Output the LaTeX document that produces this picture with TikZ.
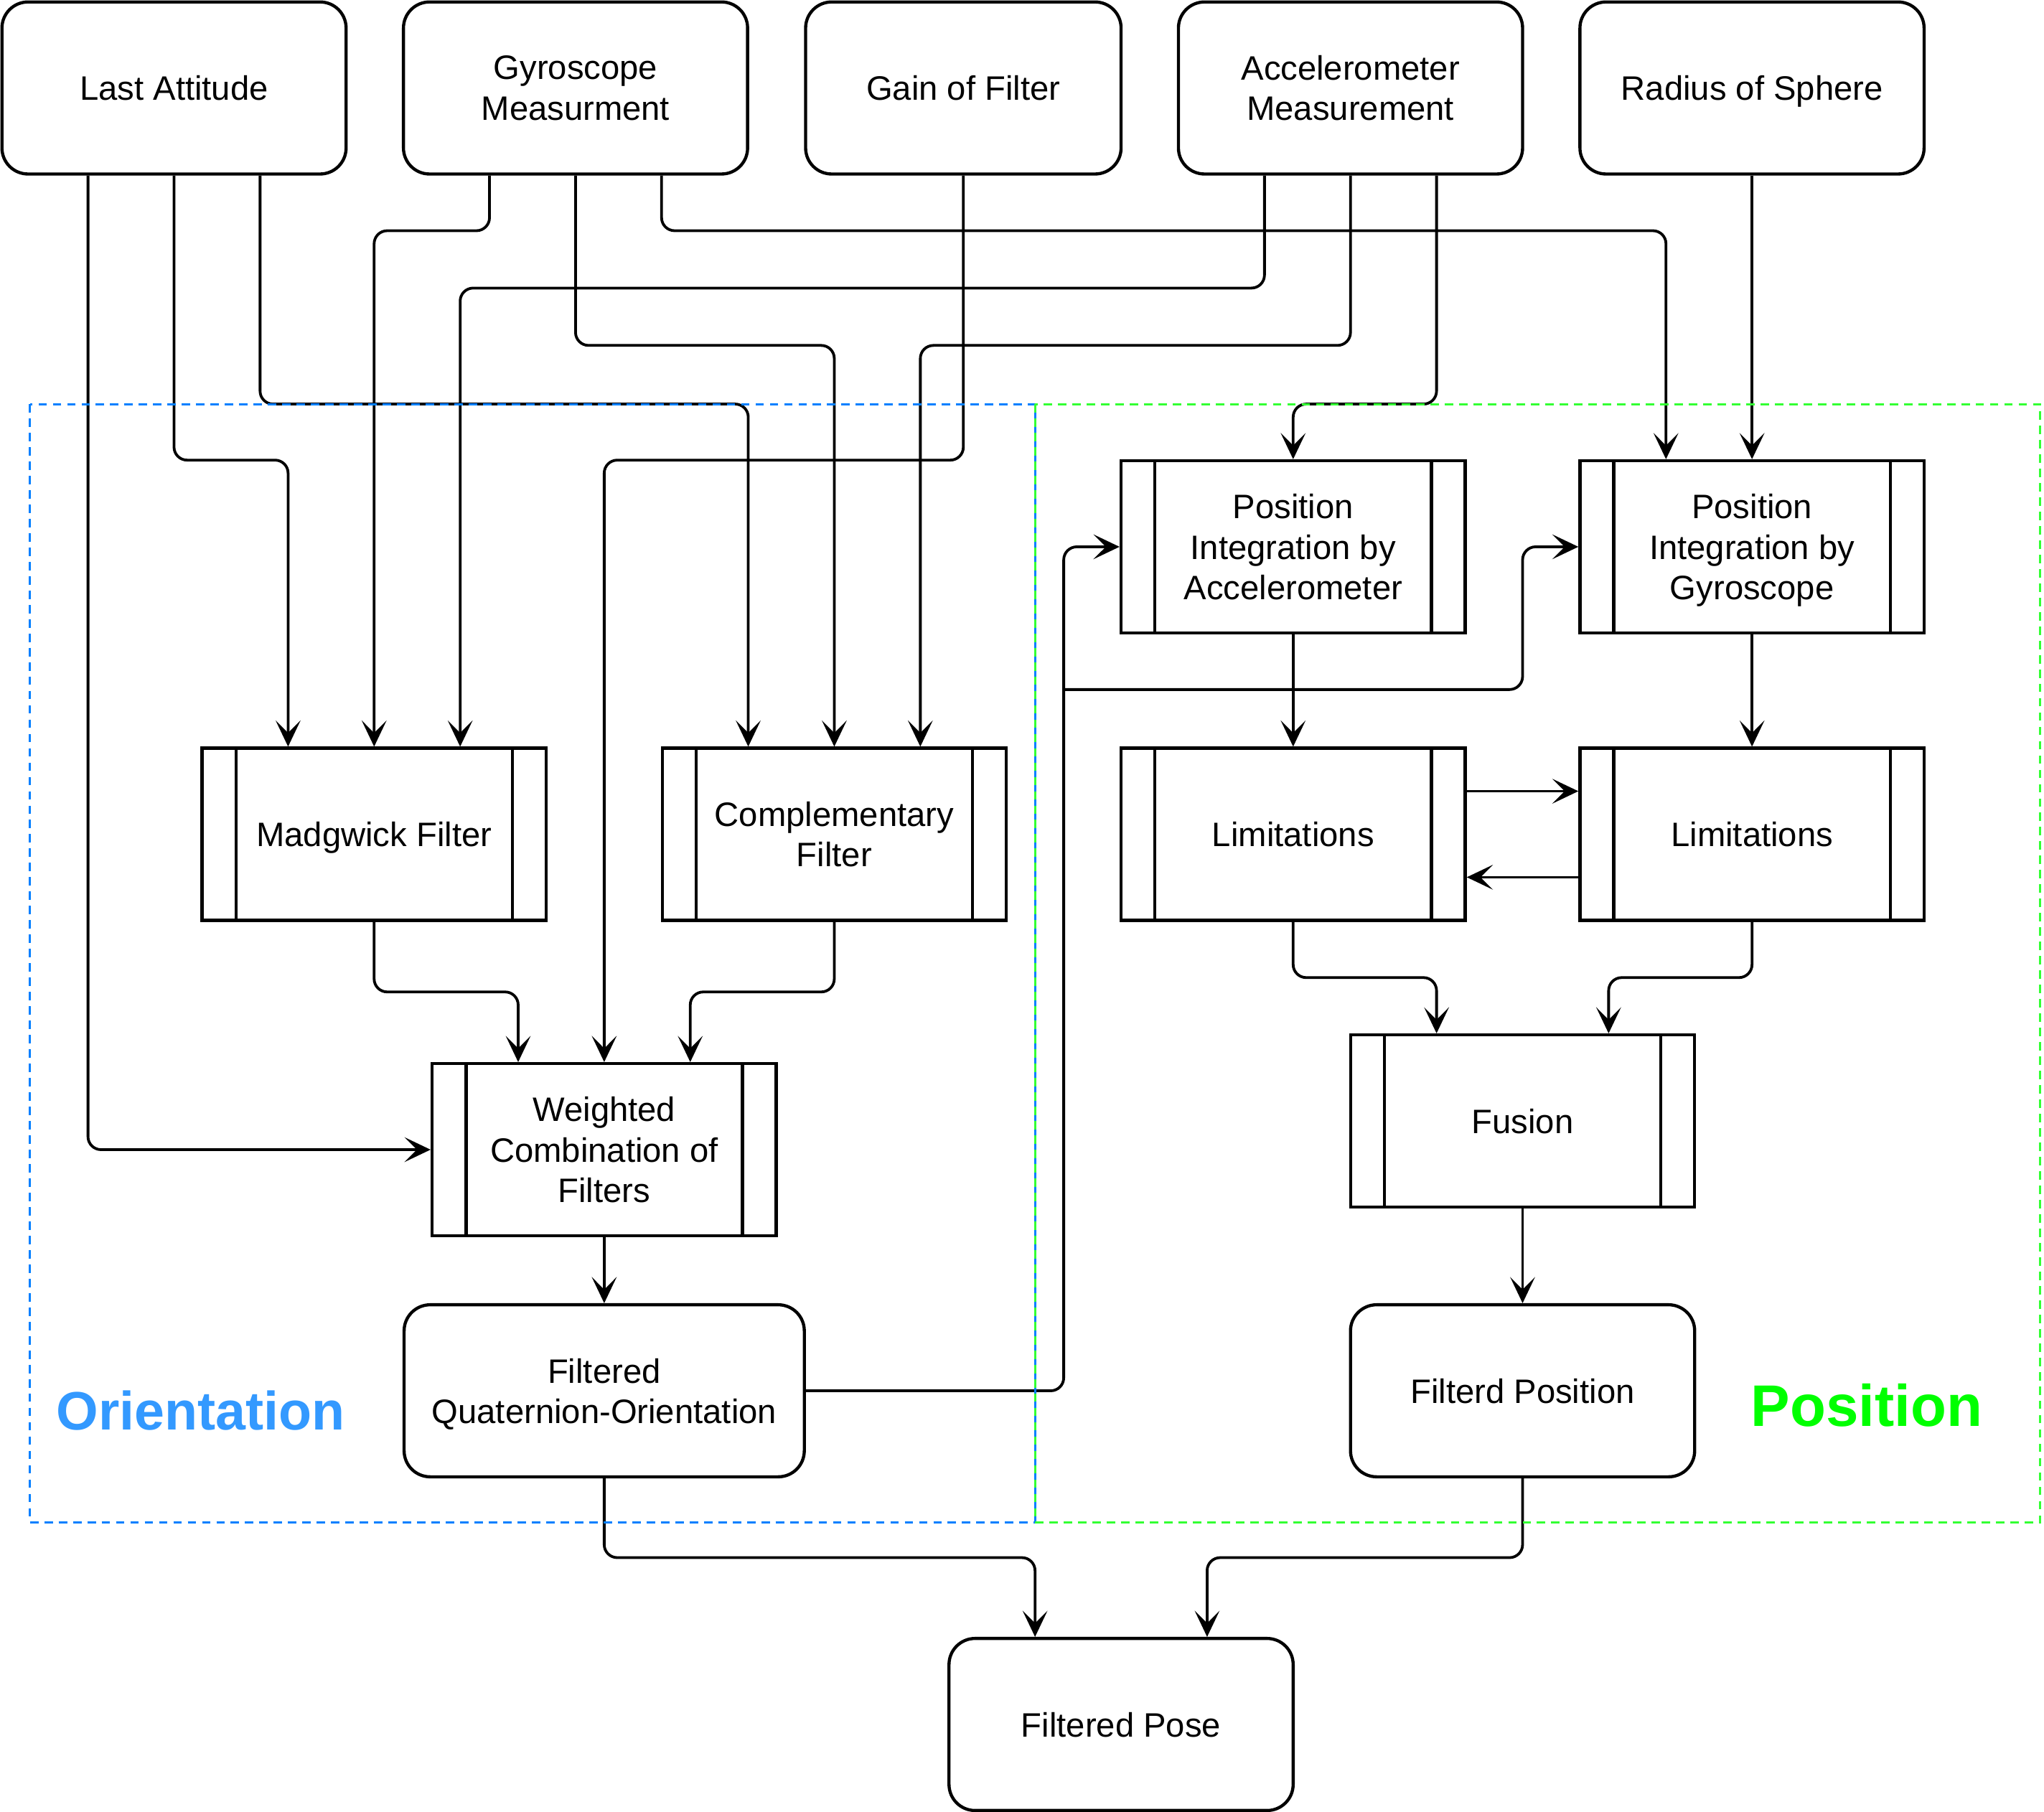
\documentclass[tikz,border=0pt]{standalone}
\usepackage{fontspec}
\setmainfont{Liberation Sans}
\usetikzlibrary{arrows.meta}
\definecolor{oritext}{RGB}{51,153,255}
\definecolor{oriline}{RGB}{0,127,255}
\definecolor{postext}{RGB}{0,255,0}
\definecolor{posline}{RGB}{51,255,51}
\begin{document}
\begin{tikzpicture}[x=1pt,y=-1pt,
  every node/.style={font=\fontsize{26}{31}\selectfont},
  inputbox/.style={draw, fill=white, line width=2.4pt, rounded corners=20pt,
    minimum width=264pt, minimum height=132pt, align=center, inner sep=0pt,
    text depth=0pt},
  procbox/.style={draw, fill=white, line width=2.4pt,
    minimum width=264pt, minimum height=132pt, align=center, inner sep=0pt,
    text depth=0pt,
    path picture={
      \draw[line width=2.4pt] ([xshift=26pt]path picture bounding box.north west) -- ([xshift=26pt]path picture bounding box.south west);
      \draw[line width=2.4pt] ([xshift=-26pt]path picture bounding box.north east) -- ([xshift=-26pt]path picture bounding box.south east);
    }},
  link/.style={line width=2.1pt, rounded corners=10pt,
    -{Stealth[length=20pt, width=19pt, inset=9.5pt]}},
  group/.style={dashed, dash pattern=on 6.5pt off 4.5pt, line width=1.7pt},
]
\useasboundingbox (0,0) rectangle (1568,1390);

% ---- inputs ----
\node[inputbox] (la) at (133.5,67.5) {Last Attitude};
\node[inputbox] (gy) at (441.5,67.5) {Gyroscope\\Measurment};
\node[inputbox, minimum width=242pt] (gf) at (739,67.5) {Gain of Filter};
\node[inputbox] (ac) at (1036,67.5) {Accelerometer\\Measurement};
\node[inputbox] (rs) at (1344,67.5) {Radius of Sphere};

% ---- orientation branch ----
\node[procbox] (mad) at (287,640) {Madgwick Filter};
\node[procbox] (comp) at (640,640) {Complementary\\Filter};
\node[procbox] (wc) at (463.5,882) {Weighted\\Combination of\\Filters};
\node[inputbox, minimum width=307pt] (fqo) at (463.5,1067) {Filtered\\Quaternion-Orientation};

% ---- position branch ----
\node[procbox] (pia) at (992,419.5) {Position\\Integration by\\Accelerometer};
\node[procbox] (pig) at (1344,419.5) {Position\\Integration by\\Gyroscope};
\node[procbox] (lim1) at (992,640) {Limitations};
\node[procbox] (lim2) at (1344,640) {Limitations};
\node[procbox] (fus) at (1168,860) {Fusion};
\node[inputbox] (fp) at (1168,1067) {Filterd Position};

% ---- output ----
\node[inputbox] (pose) at (860,1323) {Filtered Pose};

% ---- ports ----
\coordinate (la1) at ([xshift=-66pt]la.south);
\coordinate (la3) at ([xshift=66pt]la.south);
\coordinate (gy1) at ([xshift=-66pt]gy.south);
\coordinate (gy3) at ([xshift=66pt]gy.south);
\coordinate (ac1) at ([xshift=-66pt]ac.south);
\coordinate (ac3) at ([xshift=66pt]ac.south);
\coordinate (mad1) at ([xshift=-66pt]mad.north);
\coordinate (mad3) at ([xshift=66pt]mad.north);
\coordinate (comp1) at ([xshift=-66pt]comp.north);
\coordinate (comp3) at ([xshift=66pt]comp.north);
\coordinate (wc1) at ([xshift=-66pt]wc.north);
\coordinate (wc3) at ([xshift=66pt]wc.north);
\coordinate (pig1) at ([xshift=-66pt]pig.north);
\coordinate (fus1) at ([xshift=-66pt]fus.north);
\coordinate (fus3) at ([xshift=66pt]fus.north);
\coordinate (pose1) at ([xshift=-66pt]pose.north);
\coordinate (pose3) at ([xshift=66pt]pose.north);
\coordinate (split) at (816,529);

% ---- connectors ----
\draw[link] (la1) |- (wc.west);
\draw[link] (la.south) -- (la.south |- 0,353) -| (mad1);
\draw[link] (la3) -- (la3 |- 0,310) -| (comp1);
\draw[link] (gy1) -- (gy1 |- 0,177) -| (mad.north);
\draw[link] (gy.south) -- (gy.south |- 0,265) -| (comp.north);
\draw[link] (gy3) -- (gy3 |- 0,177) -| (pig1);
\draw[link] (gf.south) -- (gf.south |- 0,353) -| (wc.north);
\draw[link] (ac1) -- (ac1 |- 0,221) -| (mad3);
\draw[link] (ac.south) -- (ac.south |- 0,265) -| (comp3);
\draw[link] (ac3) -- (ac3 |- 0,310) -| (pia.north);
\draw[link] (rs.south) -- (pig.north);
\draw[link] (pia.south) -- (lim1.north);
\draw[link] (pig.south) -- (lim2.north);
\draw[link] ([yshift=33pt]lim1.east) -- ([yshift=33pt]lim2.west);
\draw[link] ([yshift=-33pt]lim2.west) -- ([yshift=-33pt]lim1.east);
\draw[link] (lim1.south) -- (lim1.south |- 0,750) -| (fus1);
\draw[link] (lim2.south) -- (lim2.south |- 0,750) -| (fus3);
\draw[link] (mad.south) -- (mad.south |- 0,761) -| (wc1);
\draw[link] (comp.south) -- (comp.south |- 0,761) -| (wc3);
\draw[link] (wc.south) -- (fqo.north);
\draw[link] (fus.south) -- (fp.north);
\draw[link] (fqo.east) -| (split |- pia.west) -- (pia.west);
\draw[link] (split) -| (pig.west -| 1168,0) -- (pig.west);
\draw[link] (fqo.south) -- (fqo.south |- 0,1195) -| (pose1);
\draw[link] (fp.south) -- (fp.south |- 0,1195) -| (pose3);

% ---- groups ----
\draw[group, oriline] (23,310) rectangle (794,1168);
\draw[group, posline] (794,310) rectangle (1565,1168);
\node[anchor=base, text=oritext, font=\bfseries\fontsize{41.5}{48}\selectfont] (orilabel) at (154,1097) {Orientation};
\node[anchor=base, text=postext, font=\bfseries\fontsize{45}{52}\selectfont] (poslabel) at (1432,1094) {Position};
\end{tikzpicture}
\end{document}
